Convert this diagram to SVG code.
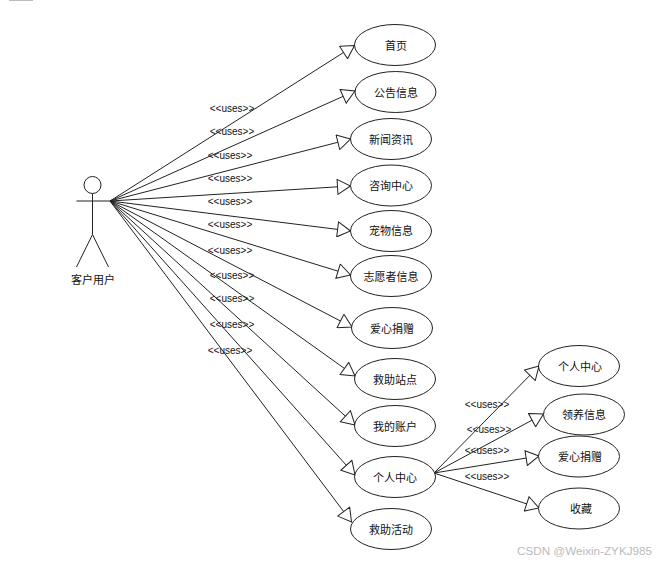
<svg xmlns="http://www.w3.org/2000/svg" width="660" height="565" viewBox="0 0 660 565">
<style>
.bg{fill:#fff}
.n{fill:#fff;stroke:#222;stroke-width:1}
.t{font-family:"Noto Sans CJK SC","Liberation Sans",sans-serif;font-size:11px;fill:#111;text-anchor:middle}
.u{font-family:"Liberation Sans",sans-serif;font-size:10px;fill:#111;text-anchor:middle}
.w{font-family:"Liberation Sans",sans-serif;font-size:11.7px;fill:#bbb}
.c line{stroke:#222;stroke-width:1;marker-end:url(#tri)}
.a{fill:none;stroke:#222;stroke-width:1}
</style>
<defs>
<marker id="tri" viewBox="0 0 15 16" refX="14" refY="8" markerWidth="15" markerHeight="16" markerUnits="userSpaceOnUse" orient="auto">
<path d="M1 0.5L14 8L1 15.5Z" fill="#fff" stroke="#222" stroke-width="1"/>
</marker>
</defs>
<rect class="bg" width="660" height="565"/>
<rect x="9" y="0" width="24" height="1" fill="#bbb"/>
<g id="connectors" class="c">
<line x1="110" y1="201" x2="354.500" y2="45.500"/>
<line x1="110" y1="201" x2="355" y2="91"/>
<line x1="110" y1="201" x2="350.500" y2="139"/>
<line x1="110" y1="201" x2="350.500" y2="186"/>
<line x1="110" y1="201" x2="350.500" y2="231"/>
<line x1="110" y1="201" x2="350.500" y2="275"/>
<line x1="110" y1="201" x2="352" y2="327"/>
<line x1="110" y1="201" x2="355" y2="376"/>
<line x1="110" y1="201" x2="355" y2="425"/>
<line x1="110" y1="201" x2="355" y2="475"/>
<line x1="110" y1="201" x2="351.500" y2="522"/>
<line x1="434" y1="473" x2="539" y2="366"/>
<line x1="434" y1="473" x2="543.500" y2="414"/>
<line x1="434" y1="473" x2="539" y2="456"/>
<line x1="434" y1="473" x2="539" y2="508"/>
</g>
<g id="actor">
<circle class="a" cx="92.500" cy="185" r="8.500"/>
<path class="a" d="M92.500 193.500V234.500M76.500 201H110M92.500 234.500L76.500 267M92.500 234.500L108.500 267"/>
<text class="t" x="93" y="284">客户用户</text>
</g>
<g id="n1"><ellipse class="n" cx="395" cy="45" rx="40.500" ry="20.500"/><text class="t" x="396" y="50">首页</text></g>
<g id="n2"><ellipse class="n" cx="395.500" cy="92" rx="40.500" ry="20.500"/><text class="t" x="396" y="97">公告信息</text></g>
<g id="n3"><ellipse class="n" cx="391" cy="139" rx="40.500" ry="20.500"/><text class="t" x="391" y="144">新闻资讯</text></g>
<g id="n4"><ellipse class="n" cx="391" cy="185.500" rx="40.500" ry="20.500"/><text class="t" x="391" y="190">咨询中心</text></g>
<g id="n5"><ellipse class="n" cx="391" cy="231" rx="40.500" ry="20.500"/><text class="t" x="391" y="235">宠物信息</text></g>
<g id="n6"><ellipse class="n" cx="391" cy="276" rx="40.500" ry="20.500"/><text class="t" x="391" y="281">志愿者信息</text></g>
<g id="n7"><ellipse class="n" cx="392" cy="328" rx="40.500" ry="20.500"/><text class="t" x="392" y="333">爱心捐赠</text></g>
<g id="n8"><ellipse class="n" cx="395" cy="379" rx="40.500" ry="20.500"/><text class="t" x="395" y="384">救助站点</text></g>
<g id="n9"><ellipse class="n" cx="395" cy="426" rx="40.500" ry="20.500"/><text class="t" x="395" y="431">我的账户</text></g>
<g id="n10"><ellipse class="n" cx="395" cy="477" rx="40.500" ry="20.500"/><text class="t" x="395" y="482">个人中心</text></g>
<g id="n11"><ellipse class="n" cx="391" cy="529" rx="40.500" ry="20.500"/><text class="t" x="391" y="534">救助活动</text></g>
<g id="n12"><ellipse class="n" cx="579" cy="366" rx="40.500" ry="20.500"/><text class="t" x="580" y="371">个人中心</text></g>
<g id="n13"><ellipse class="n" cx="584" cy="414.500" rx="40.500" ry="20.500"/><text class="t" x="584" y="419">领养信息</text></g>
<g id="n14"><ellipse class="n" cx="579" cy="456.500" rx="40.500" ry="20.500"/><text class="t" x="580" y="461">爱心捐赠</text></g>
<g id="n15"><ellipse class="n" cx="579" cy="508.500" rx="40.500" ry="20.500"/><text class="t" x="581" y="513">收藏</text></g>
<g id="labels">
<text class="u" x="232" y="112">&lt;&lt;uses&gt;&gt;</text>
<text class="u" x="232" y="135">&lt;&lt;uses&gt;&gt;</text>
<text class="u" x="230" y="159">&lt;&lt;uses&gt;&gt;</text>
<text class="u" x="230" y="182">&lt;&lt;uses&gt;&gt;</text>
<text class="u" x="230" y="205">&lt;&lt;uses&gt;&gt;</text>
<text class="u" x="230" y="228">&lt;&lt;uses&gt;&gt;</text>
<text class="u" x="230" y="254">&lt;&lt;uses&gt;&gt;</text>
<text class="u" x="232" y="279">&lt;&lt;uses&gt;&gt;</text>
<text class="u" x="232" y="302">&lt;&lt;uses&gt;&gt;</text>
<text class="u" x="232" y="328">&lt;&lt;uses&gt;&gt;</text>
<text class="u" x="230" y="354">&lt;&lt;uses&gt;&gt;</text>
<text class="u" x="487" y="408">&lt;&lt;uses&gt;&gt;</text>
<text class="u" x="489" y="433">&lt;&lt;uses&gt;&gt;</text>
<text class="u" x="487" y="454">&lt;&lt;uses&gt;&gt;</text>
<text class="u" x="487" y="480">&lt;&lt;uses&gt;&gt;</text>
</g>
<text class="w" x="517" y="555">CSDN @Weixin-ZYKJ985</text>
</svg>
